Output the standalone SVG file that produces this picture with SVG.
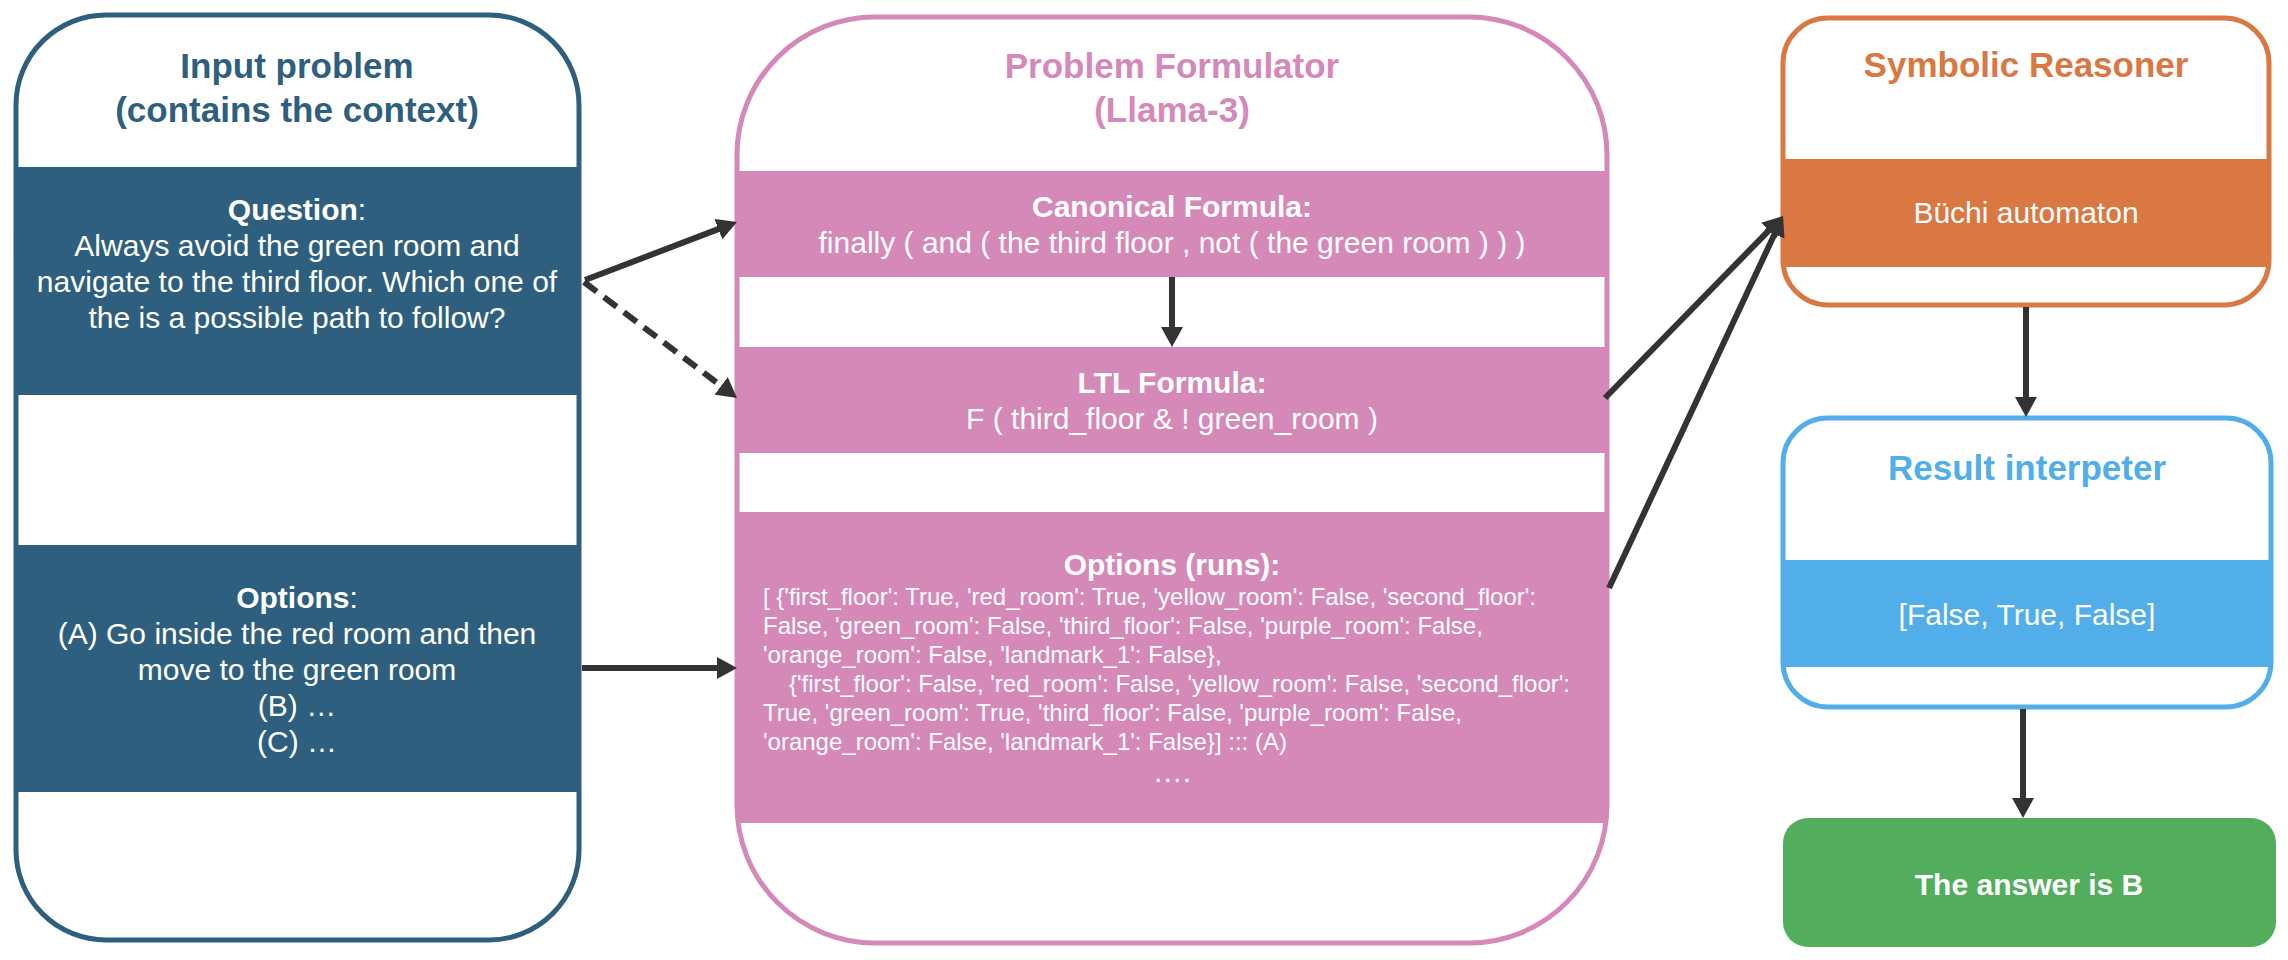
<svg xmlns="http://www.w3.org/2000/svg" width="2288" height="960" viewBox="0 0 2288 960">
<style>
text{font-family:"Liberation Sans",Arial,Helvetica,sans-serif;text-anchor:middle}
.ttl{font-size:35px;font-weight:bold}
.hd{font-size:30px;font-weight:bold;fill:#fff}
.tx{font-size:30px;fill:#fff}
.sm{font-size:24px;fill:#fff;text-anchor:start}
.box{fill:none;stroke-width:5}
.con{fill:none;stroke:#333;stroke-width:6}
</style>
<defs>
<marker id="ah" markerUnits="userSpaceOnUse" markerWidth="20" markerHeight="22" refX="2" refY="11" orient="auto">
<path d="M0,0 L20,11 L0,22 z" fill="#333"/>
</marker>
<clipPath id="cIn"><rect x="16" y="15" width="563" height="925" rx="90"/></clipPath>
<clipPath id="cPf"><rect x="737" y="17" width="870" height="926" rx="138"/></clipPath>
<clipPath id="cSr"><rect x="1783" y="18" width="486" height="287" rx="45"/></clipPath>
<clipPath id="cRi"><rect x="1783" y="418" width="488" height="289" rx="45"/></clipPath>
</defs>
<rect width="2288" height="960" fill="#fff"/>

<g id="input-problem">
<rect x="16" y="15" width="563" height="925" rx="90" fill="#fff"/>
<g clip-path="url(#cIn)" fill="#2F5F7E">
<rect x="10" y="167" width="580" height="228"/>
<rect x="10" y="545" width="580" height="247"/>
</g>
<rect class="box" x="16" y="15" width="563" height="925" rx="90" stroke="#2F5F7E"/>
<text class="ttl" x="297" y="78" fill="#2F5F7E">Input problem</text>
<text class="ttl" x="297" y="122" fill="#2F5F7E">(contains the context)</text>
<text class="tx" x="297" y="220"><tspan font-weight="bold">Question</tspan>:</text>
<text class="tx" x="297" y="256">Always avoid the green room and</text>
<text class="tx" x="297" y="292">navigate to the third floor. Which one of</text>
<text class="tx" x="297" y="328">the is a possible path to follow?</text>
<text class="tx" x="297" y="608"><tspan font-weight="bold">Options</tspan>:</text>
<text class="tx" x="297" y="644">(A) Go inside the red room and then</text>
<text class="tx" x="297" y="680">move to the green room</text>
<text class="tx" x="297" y="716">(B) …</text>
<text class="tx" x="297" y="752">(C) …</text>
</g>

<g id="problem-formulator">
<rect x="737" y="17" width="870" height="926" rx="138" fill="#fff"/>
<g clip-path="url(#cPf)" fill="#D589B8">
<rect x="730" y="171" width="885" height="106"/>
<rect x="730" y="347" width="885" height="106"/>
<rect x="730" y="512" width="885" height="311"/>
</g>
<rect class="box" x="737" y="17" width="870" height="926" rx="138" stroke="#D589B8"/>
<text class="ttl" x="1172" y="78" fill="#D589B8">Problem Formulator</text>
<text class="ttl" x="1172" y="122" fill="#D589B8">(Llama-3)</text>
<text class="hd" x="1172" y="217">Canonical Formula:</text>
<text class="tx" x="1172" y="253">finally ( and ( the third floor , not ( the green room ) ) )</text>
<text class="hd" x="1172" y="393">LTL Formula:</text>
<text class="tx" x="1172" y="429">F ( third_floor &amp; ! green_room )</text>
<text class="hd" x="1172" y="575">Options (runs):</text>
<text class="sm" x="763" y="605">[ {'first_floor': True, 'red_room': True, 'yellow_room': False, 'second_floor':</text>
<text class="sm" x="763" y="634">False, 'green_room': False, 'third_floor': False, 'purple_room': False,</text>
<text class="sm" x="763" y="663">'orange_room': False, 'landmark_1': False},</text>
<text class="sm" x="789" y="692">{'first_floor': False, 'red_room': False, 'yellow_room': False, 'second_floor':</text>
<text class="sm" x="763" y="721">True, 'green_room': True, 'third_floor': False, 'purple_room': False,</text>
<text class="sm" x="763" y="750">'orange_room': False, 'landmark_1': False}] ::: (A)</text>
<text class="tx" x="1172" y="782">….</text>
</g>

<g id="symbolic-reasoner">
<rect x="1783" y="18" width="486" height="287" rx="45" fill="#fff"/>
<rect clip-path="url(#cSr)" x="1775" y="159" width="500" height="108" fill="#D97842"/>
<rect class="box" x="1783" y="18" width="486" height="287" rx="45" stroke="#D97842"/>
<text class="ttl" x="2026" y="77" fill="#D97842">Symbolic Reasoner</text>
<text class="tx" x="2026" y="223">Büchi automaton</text>
</g>

<g id="result-interpreter">
<rect x="1783" y="418" width="488" height="289" rx="45" fill="#fff"/>
<rect clip-path="url(#cRi)" x="1775" y="560" width="505" height="107" fill="#52AEE8"/>
<rect class="box" x="1783" y="418" width="488" height="289" rx="45" stroke="#52AEE8"/>
<text class="ttl" x="2027" y="480" fill="#52AEE8">Result interpeter</text>
<text class="tx" x="2027" y="625">[False, True, False]</text>
</g>

<g id="answer">
<rect x="1783" y="818" width="493" height="129" rx="25" fill="#52AD5D"/>
<text class="hd" x="2029" y="895">The answer is B</text>
</g>

<g id="connectors">
<line class="con" x1="585" y1="280" x2="720.2" y2="228.4" marker-end="url(#ah)"/>
<line class="con" x1="584" y1="282" x2="722.7" y2="387.1" stroke-dasharray="16 9" marker-end="url(#ah)"/>
<line class="con" x1="582" y1="668" x2="719" y2="668" marker-end="url(#ah)"/>
<line class="con" x1="1172" y1="277" x2="1172" y2="329" marker-end="url(#ah)"/>
<line class="con" x1="1605" y1="398" x2="1770.4" y2="228.9" marker-end="url(#ah)"/>
<line class="con" x1="1609" y1="588" x2="1775.4" y2="232.3" marker-end="url(#ah)"/>
<line class="con" x1="2026" y1="307" x2="2026" y2="399" marker-end="url(#ah)"/>
<line class="con" x1="2023" y1="709" x2="2023" y2="800" marker-end="url(#ah)"/>
</g>
</svg>
